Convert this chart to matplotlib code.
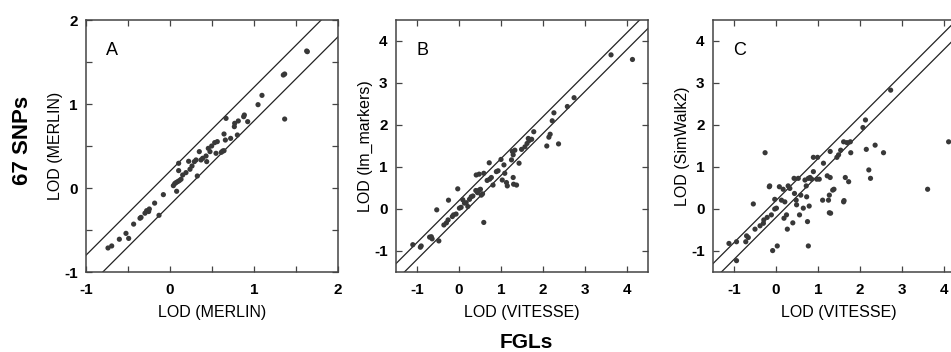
import matplotlib
matplotlib.use("Agg")
import matplotlib.pyplot as plt
from matplotlib.ticker import MultipleLocator

plt.rcParams["font.family"] = ["Liberation Sans", "DejaVu Sans"]

# Panel A: MERLIN (FGLs) vs MERLIN (67 SNPs)
a_x = [-0.738, -0.694, -0.603, -0.524, -0.492, -0.433, -0.357, -0.345, -0.298, -0.278,
       -0.254, -0.246, -0.183, -0.131, -0.079, 0.040, 0.056, 0.071, 0.079, 0.091,
       0.103, 0.103, 0.111, 0.131, 0.151, 0.190, 0.222, 0.238, 0.262, 0.290,
       0.310, 0.325, 0.349, 0.369, 0.389, 0.429, 0.437, 0.456, 0.476, 0.496,
       0.532, 0.548, 0.563, 0.611, 0.627, 0.643, 0.643, 0.659, 0.667, 0.722,
       0.766, 0.770, 0.802, 0.813, 0.877, 0.885, 0.925, 1.048, 1.095, 1.349,
       1.365, 1.365, 1.627, 1.635]
a_y = [-0.714, -0.690, -0.610, -0.540, -0.600, -0.430, -0.360, -0.350, -0.300, -0.270,
       -0.280, -0.250, -0.180, -0.325, -0.079, 0.028, 0.052, 0.064, -0.039, 0.076,
       0.294, 0.207, 0.088, 0.104, 0.155, 0.183, 0.318, 0.223, 0.262, 0.314,
       0.334, 0.143, 0.433, 0.334, 0.354, 0.381, 0.314, 0.472, 0.433, 0.500,
       0.540, 0.413, 0.552, 0.425, 0.440, 0.444, 0.643, 0.571, 0.829, 0.591,
       0.730, 0.770, 0.631, 0.798, 0.849, 0.869, 0.790, 0.992, 1.103, 1.345,
       1.357, 0.821, 1.631, 1.623]

# Panel B: VITESSE (FGLs) vs lm_markers (67 SNPs)
b_x = [-1.10, -0.92, -0.90, -0.70, -0.66, -0.64, -0.48, -0.53, -0.36, -0.30,
       -0.26, -0.25, -0.16, -0.13, -0.07, -0.03, 0.01, 0.05, 0.09, 0.13,
       0.17, 0.21, 0.25, 0.29, 0.33, 0.40, 0.44, 0.48, 0.51, 0.53,
       0.56, 0.59, 0.41, 0.48, 0.59, 0.67, 0.72, 0.73, 0.77, 0.81,
       0.89, 0.93, 1.00, 1.03, 1.07, 1.09, 1.13, 1.15, 1.29, 1.30,
       1.37, 1.29, 1.27, 1.33, 1.25, 1.43, 1.49, 1.57, 1.62, 1.67,
       1.73, 1.65, 1.78, 2.09, 2.14, 2.17, 2.22, 2.26, 2.37, 2.58,
       2.74, 3.62, 4.13]
b_y = [-0.85, -0.91, -0.88, -0.67, -0.66, -0.71, -0.76, -0.02, -0.38, -0.33,
       -0.26, 0.21, -0.18, -0.14, -0.12, 0.48, 0.02, 0.04, 0.22, 0.14,
       0.15, 0.06, 0.23, 0.29, 0.31, 0.44, 0.39, 0.45, 0.47, 0.33,
       0.36, -0.32, 0.81, 0.83, 0.85, 0.68, 1.10, 0.71, 0.75, 0.57,
       0.89, 0.91, 1.18, 0.69, 1.05, 0.85, 0.63, 0.55, 0.75, 0.59,
       0.57, 1.29, 1.37, 1.40, 1.17, 1.09, 1.42, 1.48, 1.56, 1.63,
       1.66, 1.68, 1.84, 1.50, 1.71, 1.78, 2.10, 2.29, 1.55, 2.44,
       2.65, 3.67, 3.56]

# Panel C: VITESSE (FGLs) vs SimWalk2 (67 SNPs)
c_x = [-1.12, -0.94, -0.94, -0.72, -0.70, -0.66, -0.50, -0.54, -0.38, -0.30,
       -0.29, -0.26, -0.21, -0.16, -0.15, -0.11, -0.08, -0.03, -0.03, 0.03,
       0.01, 0.08, 0.13, 0.17, 0.19, 0.21, 0.25, 0.27, 0.29, 0.33,
       0.40, 0.43, 0.44, 0.48, 0.49, 0.53, 0.56, 0.59, 0.65, 0.69,
       0.72, 0.73, 0.75, 0.77, 0.79, 0.77, 0.81, 0.85, 0.89, 0.89,
       0.99, 0.97, 1.03, 1.11, 1.13, 1.22, 1.25, 1.27, 1.29, 1.29,
       1.27, 1.30, 1.35, 1.38, 1.45, 1.49, 1.54, 1.61, 1.62, 1.61,
       1.65, 1.69, 1.73, 1.77, 1.78, 2.07, 2.13, 2.15, 2.21, 2.25,
       2.36, 2.56, 2.73, 3.61, 4.11]
c_y = [-0.82, -0.78, -1.23, -0.78, -0.64, -0.68, -0.48, 0.12, -0.40, -0.34,
       -0.26, 1.34, -0.20, 0.53, 0.55, -0.14, -0.99, 0.00, 0.23, -0.88,
       0.02, 0.53, 0.21, 0.47, -0.22, 0.17, -0.14, -0.48, 0.55, 0.49,
       -0.33, 0.73, 0.37, 0.21, 0.10, 0.73, -0.14, 0.33, 0.02, 0.69,
       0.55, 0.29, -0.30, -0.88, 0.07, 0.73, 0.75, 0.71, 0.89, 1.23,
       1.23, 0.71, 0.71, 0.21, 1.09, 0.79, 0.21, 0.33, 1.37, 0.75,
       -0.09, -0.10, 0.45, 0.47, 1.23, 1.29, 1.40, 1.60, 0.20, 0.17,
       0.75, 1.58, 0.65, 1.60, 1.34, 1.94, 2.12, 1.42, 0.93, 0.73,
       1.52, 1.34, 2.83, 0.47, 1.60]

PANELS = [
    ("A", a_x, a_y, "LOD (MERLIN)", "LOD (MERLIN)", (-1, 2), 0.5, [-1, 0, 1, 2]),
    ("B", b_x, b_y, "LOD (VITESSE)", "LOD (lm_markers)", (-1.5, 4.5), 1, [-1, 0, 1, 2, 3, 4]),
    ("C", c_x, c_y, "LOD (VITESSE)", "LOD (SimWalk2)", (-1.5, 4.5), 1, [-1, 0, 1, 2, 3, 4]),
]
BAND = 0.2

W, H = 951, 352
fig = plt.figure(figsize=(W / 100, H / 100), dpi=100)
lefts = [86, 396, 713]
size_w, size_h = 252, 252
bottom_px = 272

for left, (tag, xs, ys, xlabel, ylabel, lim, step, labels) in zip(lefts, PANELS):
    ax = fig.add_axes([left / W, (H - bottom_px) / H, size_w / W, size_h / H])
    ax.scatter(xs, ys, s=14, color="#383838", edgecolors="none", zorder=3)
    lo, hi = lim
    ax.plot([lo, hi], [lo + BAND, hi + BAND], color="#222222", lw=0.9)
    ax.plot([lo, hi], [lo - BAND, hi - BAND], color="#222222", lw=0.9)
    ax.set_xlim(lo, hi)
    ax.set_ylim(lo, hi)
    ax.xaxis.set_major_locator(MultipleLocator(step))
    ax.yaxis.set_major_locator(MultipleLocator(step))
    ticks = [t for t in ax.get_xticks() if lo <= t <= hi]
    ax.set_xticks(ticks)
    ax.set_yticks(ticks)
    ax.set_xticklabels([str(int(t)) if t in labels else "" for t in ticks])
    ax.set_yticklabels([str(int(t)) if t in labels else "" for t in ticks])
    ax.tick_params(direction="in", length=4.5, width=0.9, color="#444444",
                   top=True, right=True, labelsize=11)
    ax.tick_params(axis="x", pad=8)
    ax.tick_params(axis="y", pad=6)
    for lab in ax.get_xticklabels() + ax.get_yticklabels():
        lab.set_fontweight("bold")
    for sp in ax.spines.values():
        sp.set_color("#444444")
        sp.set_linewidth(1.1)
    ax.set_xlabel(xlabel, fontsize=11.5, labelpad=6)
    ax.set_ylabel(ylabel, fontsize=11.5, labelpad=1)
    ax.text(0.08, 0.86, tag, transform=ax.transAxes, fontsize=13)

fig.text(23 / W, 1 - 140 / H, "67 SNPs", rotation=90, fontsize=16,
         fontweight="bold", ha="center", va="center")
fig.text(526 / W, 1 - 342 / H, "FGLs", fontsize=15, fontweight="bold",
         ha="center", va="center")

fig.savefig("out.png", dpi=100)
